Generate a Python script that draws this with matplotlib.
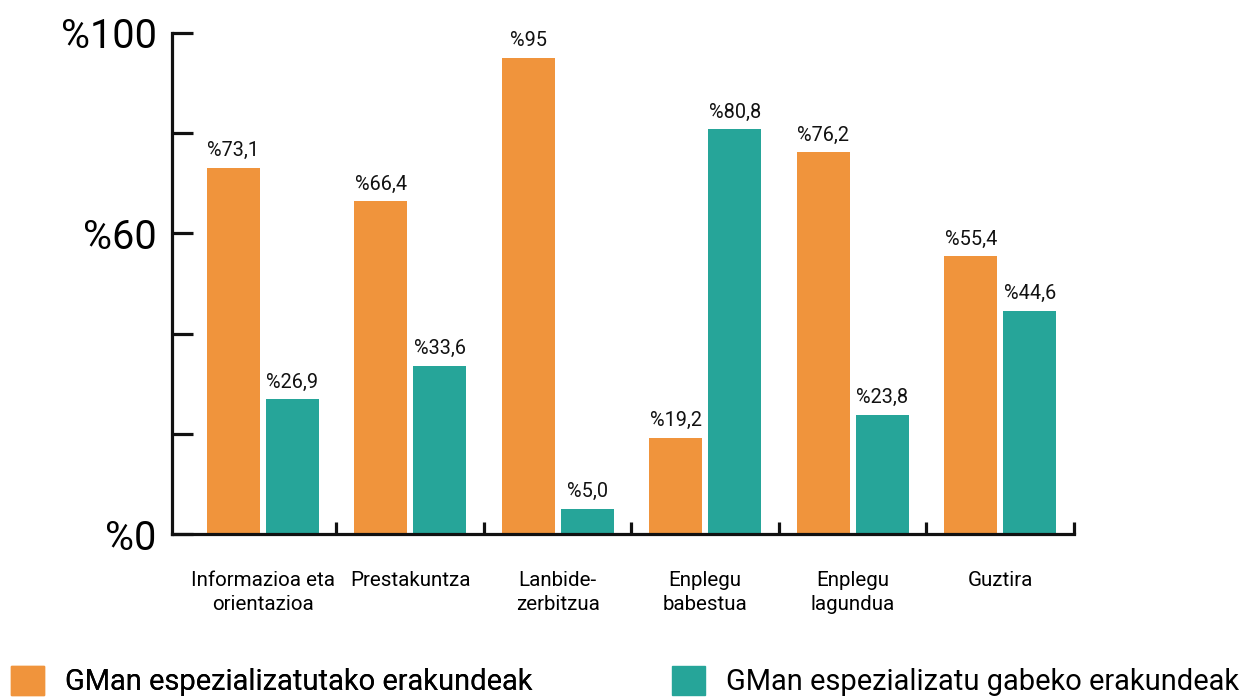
import matplotlib
matplotlib.use("Agg")
import matplotlib.pyplot as plt
from matplotlib.patches import Patch
import numpy as np

categories = ["Informazioa eta\norientazioa", "Prestakuntza", "Lanbide-\nzerbitzua",
              "Enplegu\nbabestua", "Enplegu\nlagundua", "Guztira"]
series_names = ["GMan espezializatutako erakundeak", "GMan espezializatu gabeko erakundeak"]
spec_values = [73.1, 66.4, 95.0, 19.2, 76.2, 55.4]
nonspec_values = [26.9, 33.6, 5.0, 80.8, 23.8, 44.6]
spec_labels = ["%73,1", "%66,4", "%95", "%19,2", "%76,2", "%55,4"]
nonspec_labels = ["%26,9", "%33,6", "%5,0", "%80,8", "%23,8", "%44,6"]
ytick_values = [0, 20, 40, 60, 80, 100]
ytick_labels = ["%0", "", "", "%60", "", "%100"]

colors = ["#F0943C", "#26A599"]

plt.rcParams['font.family'] = ['Roboto', 'DejaVu Sans']

W, H = 1247, 698
fig = plt.figure(figsize=(W / 100, H / 100), dpi=100)
ax = fig.add_axes([172 / W, 1 - 534 / H, (1074 - 172) / W, (534 - 33) / H])

x = np.arange(len(categories))
bw = 0.362
off = 0.2
b1 = ax.bar(x - off, spec_values, bw, color=colors[0], linewidth=0)
b2 = ax.bar(x + off, nonspec_values, bw, color=colors[1], linewidth=0)

for bars, labs in ((b1, spec_labels), (b2, nonspec_labels)):
    for rect, lab in zip(bars, labs):
        ax.annotate(lab, (rect.get_x() + rect.get_width() / 2, rect.get_height()),
                    xytext=(0, 5.5), textcoords="offset points",
                    ha="center", va="bottom", fontsize=14.3, color="#111111")

ax.set_xlim(-0.5 - 17 / 147.6, len(categories) - 0.5)
ax.set_ylim(0, 100)

for s in ("top", "right"):
    ax.spines[s].set_visible(False)
for s in ("left", "bottom"):
    ax.spines[s].set_linewidth(2.3)
    ax.spines[s].set_color("#111111")

ax.set_yticks(ytick_values)
ax.set_yticklabels(ytick_labels)
ax.tick_params(axis="y", direction="in", length=15, width=2.3, color="#111111",
               labelsize=28.5, pad=11)

ax.set_xticks(x)
ax.set_xticklabels(categories, fontsize=14.8, linespacing=1.3)
ax.set_xticks(np.arange(len(categories)) + 0.5, minor=True)
ax.tick_params(axis="x", which="major", length=0, pad=27)
ax.tick_params(axis="x", which="minor", direction="in", length=9, width=2.3, color="#111111")

fs_leg = 20.9
fs_px = fs_leg / 0.72
hl = 33 / fs_px
leg_kw = dict(loc="upper left", frameon=False, fontsize=fs_leg, borderpad=0,
              borderaxespad=0, handlelength=hl, handleheight=hl, handletextpad=21 / fs_px)
leg1 = fig.legend(handles=[Patch(color=colors[0], label=series_names[0])],
                  bbox_to_anchor=(11 / W, 1 - 666 / H), **leg_kw)
leg2 = fig.legend(handles=[Patch(color=colors[1], label=series_names[1])],
                  bbox_to_anchor=(672 / W, 1 - 666 / H), **leg_kw)
fig.add_artist(leg1)

fig.savefig("out.png", dpi=100, facecolor="white")
